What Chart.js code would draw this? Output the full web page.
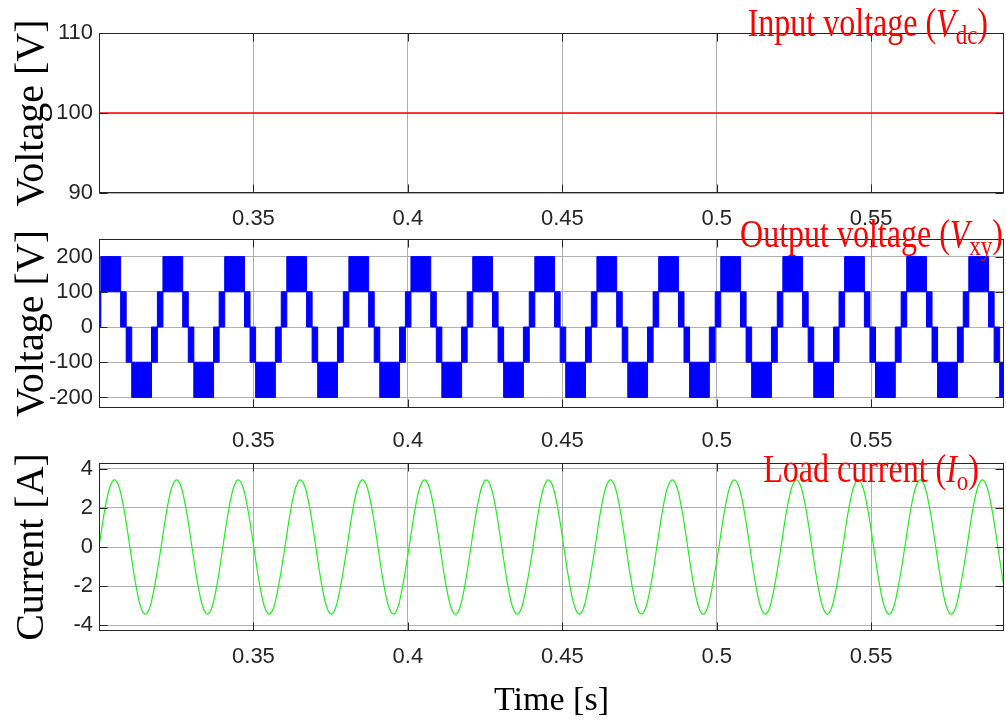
<!DOCTYPE html>
<html>
<head>
<meta charset="utf-8">
<script src="https://cdn.jsdelivr.net/npm/chart.js@4.4.1/dist/chart.umd.min.js"></script>
<style>
  html, body { margin: 0; padding: 0; background: #fff; }
  #wrap { position: relative; width: 1006px; height: 721px; overflow: hidden; }
  canvas { position: absolute; left: 0; }
</style>
</head>
<body>
<div id="wrap">
  <canvas id="vdc" width="1006" height="229" style="top:3px"></canvas>
  <canvas id="vxy" width="1006" height="244" style="top:209px"></canvas>
  <canvas id="io" width="1006" height="288" style="top:433px"></canvas>
</div>
<script>
// time axis (s)
const timeMin = 0.3
const timeMax = 0.593
const xTicks = [0.35, 0.4, 0.45, 0.5, 0.55]

// input voltage Vdc
const vdcTime = [0.3, 0.593]
const vdcValue = [100, 100]
const vdcTicks = [90, 100, 110]

// output voltage Vxy: each fundamental cycle is a row of PWM bands
const vxyPeriod = 0.02007
const vxyCycleStart = [0.2988, 0.3189, 0.3389, 0.3590, 0.3791, 0.3992, 0.4192, 0.4393,
  0.4594, 0.4794, 0.4995, 0.5196, 0.5396, 0.5597, 0.5798]
const vxyStepOffset = [0, 0.0018, 0.0082, 0.0100, 0.0118, 0.0182]
const vxyBandTop = [100, 200, 100, 0, -100, 0]
const vxyBandBottom = [0, 100, 0, -100, -200, -100]
const vxyTicks = [-200, -100, 0, 100, 200]

// load current Io
const ioCycleStart = [0.3000, 0.3201, 0.3401, 0.3602, 0.3803, 0.4004, 0.4204, 0.4405,
  0.4606, 0.4806, 0.5007, 0.5208, 0.5408, 0.5609, 0.5810]
const ioSampleOffset = [0, 0.00167, 0.00333, 0.005, 0.00667, 0.00833, 0.01, 0.01167,
  0.01333, 0.015, 0.01667, 0.01833]
const ioSampleValue = [0, 1.72, 2.98, 3.44, 2.98, 1.72, 0, -1.72, -2.98, -3.44, -2.98, -1.72]
const ioTicks = [-4, -2, 0, 2, 4]

const tickFont = { family: '"Liberation Sans Narrow", "Arial Narrow", "Liberation Sans", Arial, sans-serif', size: 22, lineHeight: 1 }
const serif = '"Liberation Serif", "Times New Roman", serif'
const gridColor = '#b0b0b0'

function vxyBands() {
  let top = [], bottom = []
  vxyCycleStart.forEach(function (start) {
    vxyStepOffset.forEach(function (off, i) {
      top.push({ x: start + off, y: vxyBandTop[i] })
      bottom.push({ x: start + off, y: vxyBandBottom[i] })
    })
  })
  let end = vxyCycleStart[vxyCycleStart.length - 1] + vxyPeriod
  top.push({ x: end, y: vxyBandTop[0] })
  bottom.push({ x: end, y: vxyBandBottom[0] })
  return { top: top, bottom: bottom }
}

function ioPoints() {
  let pts = []
  ioCycleStart.forEach(function (start) {
    ioSampleOffset.forEach(function (off, i) {
      pts.push({ x: start + off, y: ioSampleValue[i] })
    })
  })
  pts.push({ x: ioCycleStart[ioCycleStart.length - 1] + vxyPeriod, y: 0 })
  return pts
}

function drawRich(ctx, parts, right, baseline, size, stretch) {
  let subSize = Math.round(size * 0.72)
  let fonts = parts.map(function (p) {
    return (p.italic ? 'italic ' : '') + (p.sub ? subSize : size) + 'px ' + serif
  })
  let total = 0
  let widths = parts.map(function (p, i) {
    ctx.font = fonts[i]
    let w = ctx.measureText(p.text).width
    total += w
    return w
  })
  ctx.save()
  ctx.translate(right - total, baseline)
  ctx.scale(1, stretch)
  ctx.fillStyle = '#ff0000'
  ctx.textAlign = 'left'
  ctx.textBaseline = 'alphabetic'
  let x = 0
  parts.forEach(function (p, i) {
    ctx.font = fonts[i]
    ctx.fillText(p.text, x, p.sub ? size * 0.2 : 0)
    x += widths[i]
  })
  ctx.restore()
}

// box round the plot, inward ticks, red caption
const panelFrame = {
  id: 'panelFrame',
  afterDatasetsDraw(chart, args, opts) {
    const ctx = chart.ctx
    const a = chart.chartArea
    const sx = chart.scales.x, sy = chart.scales.y
    let L = Math.round(a.left) + 0.5, R = Math.round(a.right) - 0.5
    let T = Math.round(a.top) + 0.5, B = Math.round(a.bottom) - 0.5
    ctx.save()
    ctx.strokeStyle = '#262626'
    ctx.lineWidth = 1
    ctx.strokeRect(L, T, R - L, B - T)
    ctx.beginPath()
    sx.ticks.forEach(function (t) {
      let px = Math.round(sx.getPixelForValue(t.value)) + 0.5
      ctx.moveTo(px, B); ctx.lineTo(px, B - 8)
      ctx.moveTo(px, T); ctx.lineTo(px, T + 8)
    })
    sy.ticks.forEach(function (t) {
      let py = Math.round(sy.getPixelForValue(t.value)) + 0.5
      ctx.moveTo(L, py); ctx.lineTo(L + 8, py)
      ctx.moveTo(R, py); ctx.lineTo(R - 8, py)
    })
    ctx.stroke()
    ctx.restore()
    if (opts.parts) drawRich(ctx, opts.parts, opts.right, opts.baseline, 32, 1.22)
  }
}

function panelOptions(cfg) {
  return {
    responsive: false,
    animation: false,
    layout: { padding: { top: 30, right: 2, left: 0, bottom: 0 } },
    plugins: {
      legend: { display: false },
      tooltip: { enabled: false },
      panelFrame: cfg.caption
    },
    scales: {
      x: {
        type: 'linear',
        min: timeMin,
        max: timeMax,
        afterFit: function (s) { s.height = cfg.xHeight },
        afterBuildTicks: function (s) { s.ticks = xTicks.map(function (v) { return { value: v } }) },
        grid: { color: gridColor, drawTicks: false },
        border: { display: false },
        ticks: { font: tickFont, color: '#262626', padding: cfg.xPad, maxRotation: 0,
          callback: function (v) { return String(v) } },
        title: cfg.xTitle || { display: false }
      },
      y: {
        min: cfg.yMin,
        max: cfg.yMax,
        afterFit: function (s) { s.width = 99 },
        afterBuildTicks: function (s) { s.ticks = cfg.yTicks.map(function (v) { return { value: v } }) },
        grid: { color: gridColor, drawTicks: false },
        border: { display: false },
        ticks: { font: tickFont, color: '#262626', padding: 6, callback: function (v) { return String(v) } },
        title: { display: true, text: cfg.yTitle, color: '#000',
          font: { family: serif, size: 40, lineHeight: 1 }, padding: { top: 12 } }
      }
    }
  }
}

new Chart(document.getElementById('vdc'), {
  type: 'line',
  data: {
    datasets: [{
      data: vdcTime.map(function (t, i) { return { x: t, y: vdcValue[i] } }),
      borderColor: '#ff0000', borderWidth: 1.5, pointRadius: 0, fill: false
    }]
  },
  options: panelOptions({
    xHeight: 39, xPad: 15, yMin: 90, yMax: 110, yTicks: vdcTicks, yTitle: 'Voltage [V]',
    caption: { right: 988, baseline: 33, parts: [
      { text: 'Input voltage (' }, { text: 'V', italic: true }, { text: 'dc', sub: true }, { text: ')' }] }
  }),
  plugins: [panelFrame]
})

const bands = vxyBands()
new Chart(document.getElementById('vxy'), {
  type: 'line',
  data: {
    datasets: [
      { data: bands.top, stepped: true, borderColor: '#0000ff', backgroundColor: '#0000ff',
        borderWidth: 1, pointRadius: 0, fill: '+1' },
      { data: bands.bottom, stepped: true, borderColor: '#0000ff', backgroundColor: '#0000ff',
        borderWidth: 1, pointRadius: 0, fill: false }
    ]
  },
  options: panelOptions({
    xHeight: 45, xPad: 22, yMin: -230, yMax: 250, yTicks: vxyTicks, yTitle: 'Voltage [V]',
    caption: { right: 1003, baseline: 38, parts: [
      { text: 'Output voltage (' }, { text: 'V', italic: true }, { text: 'xy', sub: true }, { text: ')' }] }
  }),
  plugins: [panelFrame]
})

new Chart(document.getElementById('io'), {
  type: 'line',
  data: {
    datasets: [{
      data: ioPoints(), borderColor: '#22ee22', borderWidth: 1.2, pointRadius: 0,
      cubicInterpolationMode: 'monotone', fill: false
    }]
  },
  options: panelOptions({
    xHeight: 90, xPad: 15, yMin: -4.3, yMax: 4.3, yTicks: ioTicks, yTitle: 'Current [A]',
    xTitle: { display: true, text: 'Time [s]', color: '#000',
      font: { family: serif, size: 34, lineHeight: 1 }, padding: { bottom: 3 } },
    caption: { right: 979, baseline: 49, parts: [
      { text: 'Load current (' }, { text: 'I', italic: true }, { text: 'o', sub: true }, { text: ')' }] }
  }),
  plugins: [panelFrame]
})
</script>
</body>
</html>
